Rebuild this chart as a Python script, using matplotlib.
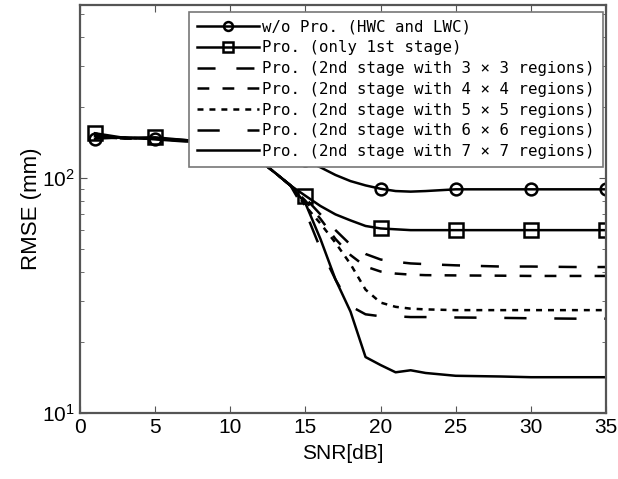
import matplotlib
matplotlib.use("Agg")
import matplotlib.pyplot as plt

plt.rcParams['lines.scale_dashes'] = False

snr = [1, 3, 5, 7, 10, 12, 13, 14, 15, 16, 17, 18, 19, 20, 21, 22, 23, 25, 28, 30, 33, 35]
marker_idx = [0, 2, 4, 8, 13, 17, 19, 21]

rmse_wo = [147, 149, 146, 143, 142, 135, 130, 124, 119, 111, 103, 97, 93, 90, 88, 87.5, 88, 89.5, 89.5, 89.5, 89.5, 89.5]
rmse_1st = [155, 148, 149, 145, 140, 118, 105, 93, 84, 76, 70, 66, 62.5, 61, 60.5, 60, 60, 60, 60, 60, 60, 60]
rmse_3x3 = [152, 148, 148, 145, 140, 118, 105, 93, 82, 70, 60, 52, 47.5, 45, 44, 43.3, 43, 42.5, 42, 42, 41.8, 41.8]
rmse_4x4 = [150, 147, 147, 144, 140, 118, 105, 93, 80, 67, 55, 47, 42, 40, 39.2, 38.8, 38.6, 38.5, 38.4, 38.3, 38.3, 38.3]
rmse_5x5 = [149, 148, 147, 144, 140, 118, 105, 93, 76, 64, 53, 43, 33.5, 29.5, 28.3, 27.8, 27.6, 27.4, 27.4, 27.4, 27.4, 27.4]
rmse_6x6 = [150, 147, 147, 144, 140, 118, 105, 93, 72, 50, 37, 28.5, 26.3, 25.8, 25.8, 25.6, 25.6, 25.5, 25.4, 25.3, 25.2, 25.2]
rmse_7x7 = [151, 148, 147, 144, 140, 118, 105, 93, 78, 55, 37, 27, 17.3, 16, 14.9, 15.2, 14.8, 14.4, 14.3, 14.2, 14.2, 14.2]

labels = [
    "w/o Pro. (HWC and LWC)",
    "Pro. (only 1st stage)",
    "Pro. (2nd stage with 3 × 3 regions)",
    "Pro. (2nd stage with 4 × 4 regions)",
    "Pro. (2nd stage with 5 × 5 regions)",
    "Pro. (2nd stage with 6 × 6 regions)",
    "Pro. (2nd stage with 7 × 7 regions)",
]

fig = plt.figure(figsize=(6.18, 4.79), dpi=100)
ax = fig.add_axes([80/618, 66/479, 526/618, 408/479])

lw = 1.8
ax.plot(snr, rmse_wo, color='black', lw=lw, marker='o', ms=8.5, mfc='none', mew=1.8,
        markevery=marker_idx, label=labels[0])
ax.plot(snr, rmse_1st, color='black', lw=lw, marker='s', ms=10.5, mfc='none', mew=1.8,
        markevery=marker_idx, label=labels[1])
ax.plot(snr, rmse_3x3, color='black', lw=lw, dashes=(13, 15), label=labels[2])
ax.plot(snr, rmse_4x4, color='black', lw=lw, dashes=(8.5, 9.5), label=labels[3])
ax.plot(snr, rmse_5x5, color='black', lw=lw, dashes=(4.3, 4.3), label=labels[4])
ax.plot(snr, rmse_6x6, color='black', lw=lw, dashes=(16, 20), label=labels[5])
ax.plot(snr, rmse_7x7, color='black', lw=lw, label=labels[6])

ax.set_yscale('log')
ax.set_xlim(0, 35)
ax.set_ylim(10, 10 ** (1 + 408 / 235))
ax.set_xticks([0, 5, 10, 15, 20, 25, 30, 35])
ax.set_yticks([10, 100])
ax.tick_params(which='both', direction='in', top=True, right=True, color='#555555')
ax.tick_params(which='major', length=5, labelsize=15)
ax.tick_params(which='minor', length=3)
for lab in ax.get_xticklabels() + ax.get_yticklabels():
    lab.set_family('Liberation Sans')
for sp in ax.spines.values():
    sp.set_color('#555555')
    sp.set_linewidth(1.6)

ax.set_xlabel("SNR[dB]", fontsize=15, family='Liberation Sans', labelpad=5)
ax.set_ylabel("RMSE (mm)", fontsize=16, family='Liberation Sans', labelpad=0)

leg = ax.legend(loc='upper right', bbox_to_anchor=(0.994, 0.983), borderaxespad=0,
                prop={'family': 'DejaVu Sans Mono', 'size': 11.35},
                handlelength=3.9, handletextpad=0.25, labelspacing=0.36,
                borderpad=0.5, markerscale=0.75, fancybox=False, framealpha=1)
leg.get_frame().set_edgecolor('#777777')
leg.get_frame().set_linewidth(1.2)

fig.savefig("out.png", dpi=100)
